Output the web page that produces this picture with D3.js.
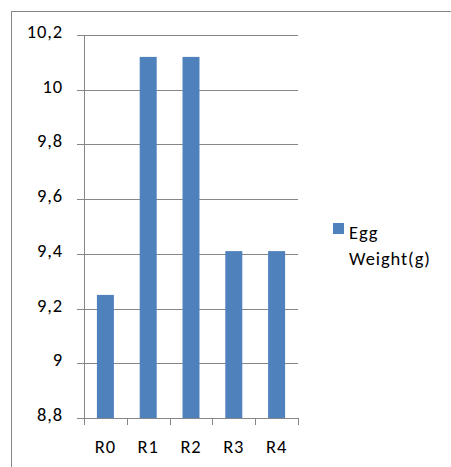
<!DOCTYPE html>
<html><head><meta charset="utf-8">
<script src="https://cdn.jsdelivr.net/npm/d3@7"></script>
<style>body{margin:0;background:#fff}svg{display:block}text{font-family:Carlito,"Open Sans","Noto Sans",sans-serif;fill:#000;letter-spacing:0.9px}</style>
</head><body>
<script>
const categories = ["R0","R1","R2","R3","R4"];
const values = [9.25, 10.12, 10.12, 9.41, 9.41];
const yTicks = [8.8, 9.0, 9.2, 9.4, 9.6, 9.8, 10.0, 10.2];
const seriesName = ["Egg", "Weight(g)"];

const W = 451, H = 467;
const svg = d3.select("body").append("svg").attr("width", W).attr("height", H);
svg.append("rect").attr("x", 11.5).attr("y", 11.5).attr("width", 460).attr("height", 470)
  .attr("fill", "#fff").attr("stroke", "#868686").attr("stroke-width", 1);

const x0 = 84, x1 = 298, yTop = 35, yBot = 418;
const xb = d3.scaleBand().domain(categories).range([x0, x1]);
const y = d3.scaleLinear().domain([8.8, 10.2]).range([yBot, yTop]);
const fmt = v => (Math.round(v * 10) / 10).toString().replace(".", ",");
const FS = 18.5;

// gridlines
svg.append("g").selectAll("line").data(yTicks).join("line")
  .attr("x1", x0 - 7).attr("x2", x1)
  .attr("y1", d => Math.round(y(d)) + 0.5).attr("y2", d => Math.round(y(d)) + 0.5)
  .attr("stroke", "#868686").attr("stroke-width", 1);
svg.append("g").selectAll("text").data(yTicks).join("text")
  .attr("x", 63).attr("y", d => y(d) + 3)
  .attr("text-anchor", "end").attr("font-size", FS).text(fmt);

// bars
svg.append("g").selectAll("rect").data(values).join("rect")
  .attr("x", (d, i) => xb(categories[i]) + xb.bandwidth() / 2 - 8.5)
  .attr("width", 17)
  .attr("y", d => y(d)).attr("height", d => yBot - y(d))
  .attr("fill", "#4F81BD");

// axes lines
svg.append("line").attr("x1", x0 + 0.5).attr("x2", x0 + 0.5).attr("y1", yTop).attr("y2", yBot)
  .attr("stroke", "#868686");
svg.append("line").attr("x1", x0).attr("x2", x1).attr("y1", yBot + 0.5).attr("y2", yBot + 0.5)
  .attr("stroke", "#868686");
const bounds = categories.map(c => xb(c)).concat([x1]);
svg.append("g").selectAll("line").data(bounds).join("line")
  .attr("x1", d => Math.round(d) + 0.5).attr("x2", d => Math.round(d) + 0.5)
  .attr("y1", yBot).attr("y2", yBot + 7).attr("stroke", "#868686");
svg.append("g").selectAll("text").data(categories).join("text")
  .attr("x", d => xb(d) + xb.bandwidth() / 2).attr("y", 453)
  .attr("text-anchor", "middle").attr("font-size", FS).text(d => d);

// legend
svg.append("rect").attr("x", 333).attr("y", 223).attr("width", 11).attr("height", 11).attr("fill", "#4F81BD");
svg.append("text").attr("x", 349).attr("y", 239).attr("font-size", FS)
  .selectAll("tspan").data(seriesName).join("tspan")
  .attr("x", 349).attr("dy", (d, i) => i === 0 ? 0 : 26).text(d => d);
</script>
</body></html>
